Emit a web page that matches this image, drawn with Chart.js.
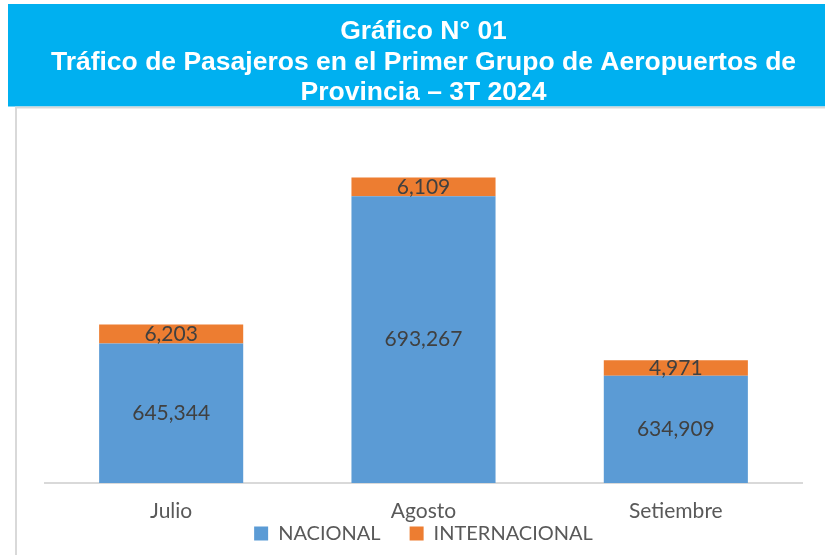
<!DOCTYPE html>
<html>
<head>
<meta charset="utf-8">
<script src="https://cdn.jsdelivr.net/npm/chart.js@4.4.1/dist/chart.umd.min.js"></script>
<style>
  html, body { margin: 0; padding: 0; background: #ffffff; }
  #wrap { width: 825px; height: 555px; }
</style>
</head>
<body>
<div id="wrap"><canvas id="c" width="825" height="555"></canvas></div>
<script>
const titleLines = [
  "Gráfico N° 01",
  "Tráfico de Pasajeros en el Primer Grupo de Aeropuertos de",
  "Provincia – 3T 2024"
];
const categories = ["Julio", "Agosto", "Setiembre"];
const nacional = [645344, 693267, 634909];
const internacional = [6203, 6109, 4971];
const seriesNames = ["NACIONAL", "INTERNACIONAL"];

const fmt = v => v.toLocaleString('en-US');

const backgroundPlugin = {
  id: 'bgFrame',
  beforeDraw(chart) {
    const ctx = chart.ctx;
    ctx.save();
    ctx.fillStyle = '#ffffff';
    ctx.fillRect(0, 0, chart.width, chart.height);
    ctx.fillStyle = '#00B0F0';
    ctx.fillRect(8, 4, chart.width - 8, 102.5);
    ctx.strokeStyle = '#D9D9D9';
    ctx.lineWidth = 2;
    ctx.beginPath();
    ctx.moveTo(16, chart.height);
    ctx.lineTo(16, 107.5);
    ctx.lineTo(chart.width, 107.5);
    ctx.stroke();
    ctx.restore();
  }
};

const valueLabelPlugin = {
  id: 'valueLabels',
  afterDatasetsDraw(chart) {
    const ctx = chart.ctx;
    const area = chart.chartArea;
    ctx.save();
    ctx.font = '21px Lato';
    ctx.fillStyle = '#404040';
    ctx.textAlign = 'center';
    ctx.textBaseline = 'middle';
    chart.data.datasets.forEach((ds, di) => {
      const meta = chart.getDatasetMeta(di);
      meta.data.forEach((el, i) => {
        const base = Math.min(el.base, area.bottom);
        const top = Math.max(el.y, area.top);
        ctx.fillText(fmt(ds.data[i]), el.x, (top + base) / 2);
      });
    });
    ctx.restore();
  }
};

new Chart(document.getElementById('c'), {
  type: 'bar',
  data: {
    labels: categories,
    datasets: [
      { label: seriesNames[0], data: nacional, backgroundColor: '#5B9BD5', borderWidth: 0 },
      { label: seriesNames[1], data: internacional, backgroundColor: '#ED7D31', borderWidth: 0 }
    ]
  },
  options: {
    responsive: false,
    animation: false,
    devicePixelRatio: 1,
    layout: { padding: { left: 45, right: 23, top: 0, bottom: 1.5 } },
    datasets: { bar: { categoryPercentage: 1.0, barPercentage: 0.571 } },
    scales: {
      x: {
        stacked: true,
        grid: { display: false },
        border: { display: true, color: '#D9D9D9', width: 2 },
        ticks: {
          color: '#595959',
          font: { family: 'Lato', size: 21, lineHeight: 1.2 },
          mirror: true,
          padding: -40.6
        },
        afterFit(scale) { scale.height = 11.5; }
      },
      y: {
        stacked: true,
        display: false,
        min: 600000,
        max: 720000
      }
    },
    plugins: {
      title: {
        display: true,
        text: titleLines,
        color: '#ffffff',
        font: { family: 'Liberation Sans', weight: 'bold', size: 26.5, lineHeight: 1.151 },
        padding: { top: 16.5, bottom: 6 }
      },
      legend: {
        display: true,
        position: 'bottom',
        labels: {
          color: '#595959',
          font: { family: 'Lato', size: 20 },
          boxWidth: 14,
          boxHeight: 14,
          padding: 29
        }
      },
      tooltip: { enabled: false }
    }
  },
  plugins: [backgroundPlugin, valueLabelPlugin]
});
</script>
</body>
</html>
